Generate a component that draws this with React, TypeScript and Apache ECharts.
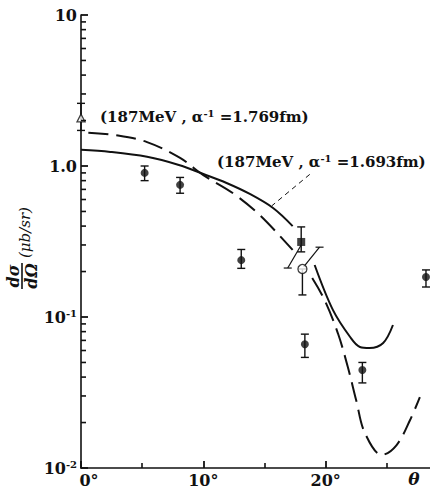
import React, { useEffect, useRef } from 'react';
import * as echarts from 'echarts';

const FONT = "'DejaVu Serif', 'Liberation Serif', serif";

// ---- axis ticks / labels ----
const xMax = 30;
const xTickStep = 10;
const xTickLabels: Record<number, string> = { 0: '{z|0°}', 10: '10°', 20: '20°' };
const yMin = 0.01;
const yMax = 10;
const yTickLabels: Record<number, string> = { [-2]: '10{s|-2}', [-1]: '10{s|-1}', 0: '1.0', 1: '10' };
const yMinorTicks = [
  0.02, 0.03, 0.04, 0.05, 0.06, 0.07, 0.08, 0.09,
  0.2, 0.3, 0.4, 0.5, 0.6, 0.7, 0.8, 0.9,
  2, 3, 4, 5, 6, 7, 8, 9,
];

// ---- theory curves (null = break in the printed curve) ----
const dashedTheta = [0.6, 2.8, 5.4, 8.1, 10.0, 12.4, 14.6, 17.3, 18.1, 18.9, 19.9, 21.0, 21.8, 22.5, 23.2, 24.6, 25.8, 26.9, 27.7];
const dashedValue = [1.66, 1.6, 1.44, 1.13, 0.87, 0.662, 0.474, 0.278, null, 0.181, 0.13, 0.078, 0.047, 0.028, 0.0171, 0.0122, 0.0142, 0.0208, 0.0295];
const solidTheta = [0, 2.4, 5.4, 8.0, 10.0, 11.9, 13.8, 15.7, 17.3, 18.2, 19.1, 20.6, 22.0, 22.8, 23.6, 24.7, 25.5];
const solidValue = [1.28, 1.24, 1.15, 1.015, 0.885, 0.772, 0.653, 0.527, 0.4, null, 0.221, 0.111, 0.0737, 0.0633, 0.0623, 0.0673, 0.0885];

// ---- measured points (filled circles) ----
const pointTheta = [5.2, 8.1, 13.1, 18.3, 23.0, 28.2];
const pointValue = [0.9, 0.75, 0.238, 0.066, 0.0446, 0.184];
const pointLow = [0.8, 0.66, 0.21, 0.054, 0.0366, 0.158];
const pointHigh = [1.0, 0.84, 0.28, 0.077, 0.05, 0.205];

// open triangle
const triangleTheta = [0];
const triangleValue = [2.08];
const triangleLow = [1.72];
const triangleHigh = [2.6];

// filled square
const squareTheta = [18.0];
const squareValue = [0.314];
const squareLow = [0.27];
const squareHigh = [0.395];

// open circle
const openTheta = [18.1];
const openValue = [0.208];
const openLow = [0.14];
const openHigh = [0.208];

// slanted bars [theta1, value1, theta2, value2]
const slantBars = [
  [18.0, 0.3, 16.9, 0.211],
  [18.2, 0.215, 19.5, 0.29],
];

// leader from second label to solid curve
const leaderLine = [
  [18.7, 0.88],
  [15.6, 0.545],
];

const labelDashed = '(187MeV , α{s|-1} =1.769fm)';
const labelSolid = '(187MeV , α{s|-1} =1.693fm)';

function pairs(t: number[], v: (number | null)[]) {
  return t.map((x, i) => [x, v[i] === null ? '-' : v[i]]);
}

function errData(t: number[], lo: number[], hi: number[]) {
  return t.map((x, i) => [x, lo[i], hi[i]]);
}

const black = '#111';

export default function App() {
  const ref = useRef<HTMLDivElement>(null);
  useEffect(() => {
    if (!ref.current) return;
    const chart = echarts.init(ref.current, undefined, { renderer: 'svg' });

    const errRender = (params: any, api: any) => {
      const x = api.value(0);
      const lo = api.coord([x, api.value(1)]);
      const hi = api.coord([x, api.value(2)]);
      const w = 4;
      const st = { stroke: black, lineWidth: 1.4 };
      return {
        type: 'group',
        children: [
          { type: 'line', shape: { x1: lo[0], y1: lo[1], x2: hi[0], y2: hi[1] }, style: st },
          { type: 'line', shape: { x1: lo[0] - w, y1: lo[1], x2: lo[0] + w, y2: lo[1] }, style: st },
          { type: 'line', shape: { x1: hi[0] - w, y1: hi[1], x2: hi[0] + w, y2: hi[1] }, style: st },
        ],
      };
    };

    const slantRender = (params: any, api: any) => {
      const a = api.coord([api.value(0), api.value(1)]);
      const b = api.coord([api.value(2), api.value(3)]);
      const st = { stroke: black, lineWidth: 1.2 };
      return {
        type: 'group',
        children: [
          { type: 'line', shape: { x1: a[0], y1: a[1], x2: b[0], y2: b[1] }, style: st },
          { type: 'line', shape: { x1: b[0] - 4, y1: b[1], x2: b[0] + 4, y2: b[1] }, style: st },
        ],
      };
    };

    const minorRender = (params: any, api: any) => {
      const p = api.coord([0, api.value(1)]);
      return {
        type: 'line',
        shape: { x1: p[0], y1: p[1], x2: p[0] + 5, y2: p[1] },
        style: { stroke: black, lineWidth: 1.6 },
      };
    };

    const supStyle = { fontSize: 10, fontFamily: FONT, fontWeight: 'bold', color: black, padding: [0, 0, 8, 0] };

    chart.setOption({
      animation: false,
      backgroundColor: '#fff',
      grid: { left: 81, top: 15, width: 367, height: 453, containLabel: false, outerBoundsMode: 'none' },
      xAxis: {
        type: 'value',
        min: 0,
        max: xMax,
        interval: xTickStep,
        axisLine: { show: true, onZero: false, lineStyle: { color: black, width: 1.6 } },
        axisTick: { show: true, inside: true, length: 7, lineStyle: { color: black, width: 1.8 } },
        minorTick: { show: true, splitNumber: 2, length: 5, lineStyle: { color: black, width: 1.6 } },
        splitLine: { show: false },
        axisLabel: {
          margin: 4,
          color: black,
          fontFamily: FONT,
          fontWeight: 'bold',
          fontSize: 16,
          formatter: (v: number) => xTickLabels[Math.round(v)] ?? '',
          rich: { z: { fontFamily: FONT, fontWeight: 'bold', fontSize: 16, color: black, padding: [0, 0, 0, 16] } },
        },
      },
      yAxis: {
        type: 'log',
        logBase: 10,
        min: yMin,
        max: yMax,
        axisLine: { show: true, onZero: false, lineStyle: { color: black, width: 1.6 } },
        axisTick: { show: true, inside: true, length: 7, lineStyle: { color: black, width: 1.8 } },
        splitLine: { show: false },
        axisLabel: {
          margin: 4,
          color: black,
          fontFamily: FONT,
          fontWeight: 'bold',
          fontSize: 16,
          formatter: (v: number) => yTickLabels[Math.round(Math.log10(v))] ?? '',
          rich: { s: supStyle },
        },
      },
      graphic: [
        {
          type: 'group',
          x: 22,
          y: 276,
          rotation: Math.PI / 2,
          children: [
            {
              type: 'text',
              x: 0,
              y: -1,
              style: { text: 'dσ', textAlign: 'center', textVerticalAlign: 'bottom', font: `italic bold 16px ${FONT}`, fill: black },
            },
            { type: 'line', shape: { x1: -13, y1: 0, x2: 13, y2: 0 }, style: { stroke: black, lineWidth: 1.6 } },
            {
              type: 'text',
              x: 0,
              y: 1,
              style: { text: 'dΩ', textAlign: 'center', textVerticalAlign: 'top', font: `italic bold 16px ${FONT}`, fill: black },
            },
            {
              type: 'text',
              x: 18,
              y: 3,
              style: { text: '(μb/sr)', textAlign: 'left', textVerticalAlign: 'middle', font: `italic 15px ${FONT}`, fill: black },
            },
          ],
        },
        {
          type: 'text',
          x: 100,
          y: 117,
          style: {
            text: labelDashed,
            textVerticalAlign: 'middle',
            font: `bold 15px ${FONT}`,
            fill: black,
            rich: { s: supStyle },
          },
        },
        {
          type: 'text',
          x: 217,
          y: 162,
          style: {
            text: labelSolid,
            textVerticalAlign: 'middle',
            font: `bold 15px ${FONT}`,
            fill: black,
            rich: { s: supStyle },
          },
        },
        {
          type: 'text',
          x: 414,
          y: 479,
          style: { text: 'θ', textAlign: 'center', textVerticalAlign: 'middle', font: `italic bold 17px ${FONT}`, fill: black },
        },
      ],
      series: [
        {
          type: 'custom',
          name: 'minorTicks',
          coordinateSystem: 'cartesian2d',
          renderItem: minorRender,
          data: yMinorTicks.map((v) => [0, v]),
          clip: false,
          silent: true,
          z: 5,
        },
        {
          type: 'line',
          name: 'dashed',
          data: pairs(dashedTheta, dashedValue),
          smooth: 0.35,
          showSymbol: false,
          connectNulls: false,
          lineStyle: { color: black, width: 2, type: [20, 8] },
          z: 2,
        },
        {
          type: 'line',
          name: 'solid',
          data: pairs(solidTheta, solidValue),
          smooth: 0.35,
          showSymbol: false,
          connectNulls: false,
          lineStyle: { color: black, width: 2 },
          z: 2,
        },
        {
          type: 'line',
          name: 'leader',
          data: leaderLine,
          showSymbol: false,
          lineStyle: { color: black, width: 1, type: [5, 4] },
          z: 2,
        },
        {
          type: 'custom',
          name: 'errors',
          renderItem: errRender,
          data: [
            ...errData(pointTheta, pointLow, pointHigh),
            ...errData(triangleTheta, triangleLow, triangleHigh),
            ...errData(squareTheta, squareLow, squareHigh),
            ...errData(openTheta, openLow, openHigh),
          ],
          clip: false,
          z: 3,
        },
        {
          type: 'custom',
          name: 'slants',
          renderItem: slantRender,
          data: slantBars,
          clip: false,
          z: 3,
        },
        {
          type: 'scatter',
          name: 'points',
          data: pairs(pointTheta, pointValue),
          symbol: 'circle',
          symbolSize: 8,
          itemStyle: { color: black },
          clip: false,
          z: 4,
        },
        {
          type: 'scatter',
          name: 'triangle',
          data: pairs(triangleTheta, triangleValue),
          symbol: 'triangle',
          symbolSize: 8,
          itemStyle: { color: '#fff', borderColor: black, borderWidth: 1.3 },
          clip: false,
          z: 4,
        },
        {
          type: 'scatter',
          name: 'square',
          data: pairs(squareTheta, squareValue),
          symbol: 'rect',
          symbolSize: 8,
          itemStyle: { color: black },
          clip: false,
          z: 4,
        },
        {
          type: 'scatter',
          name: 'open',
          data: pairs(openTheta, openValue),
          symbol: 'circle',
          symbolSize: 9,
          itemStyle: { color: '#fff', borderColor: black, borderWidth: 1.3 },
          clip: false,
          z: 4,
        },
      ],
    });
    return () => chart.dispose();
  }, []);
  return <div ref={ref} style={{ position: 'fixed', left: 0, top: 0, width: 430, height: 490 }} />;
}
